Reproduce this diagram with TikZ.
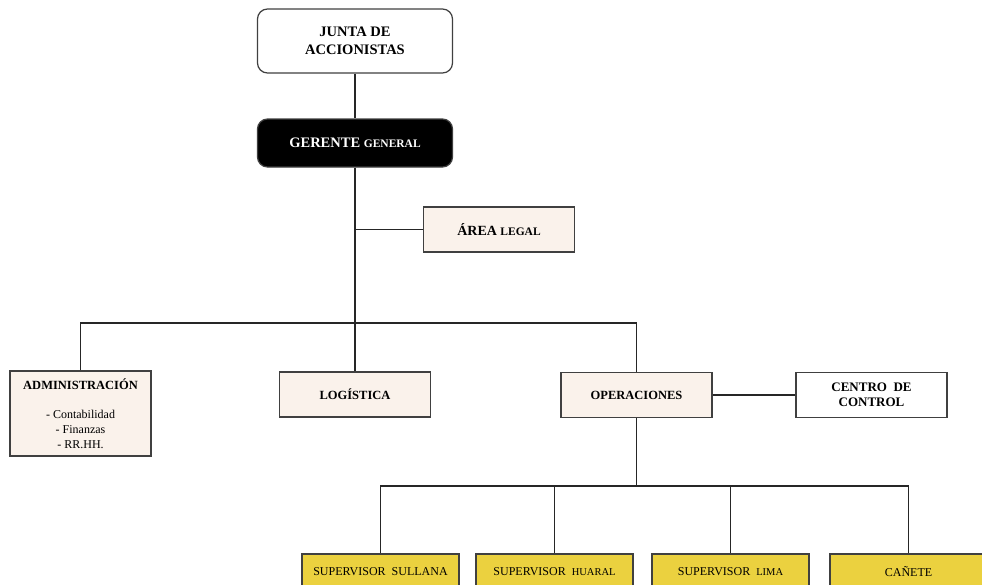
\documentclass[tikz,border=0pt]{standalone}
\usepackage{fontspec}
\setmainfont{Liberation Serif}
\definecolor{cream}{HTML}{FAF2EB}
\definecolor{gold}{HTML}{EBD13F}
\definecolor{rim}{HTML}{404040}
\newcommand{\fakesc}[2]{{\fontsize{#1}{#1}\selectfont #2}}

\begin{document}
\begin{tikzpicture}[x=1pt,y=-1pt,
  topbox/.style={draw=rim,line width=1.2pt,rounded corners=10pt,fill=white,minimum width=195pt,align=center,font=\fontsize{14.5}{18}\selectfont\bfseries},
  box/.style={draw=rim,line width=1.3pt,fill=cream,minimum width=151pt,minimum height=45pt,align=center,font=\fontsize{12.5}{15}\selectfont\bfseries},
  supbox/.style={draw=rim,line width=1.3pt,fill=gold,minimum width=157pt,minimum height=36pt,align=center,font=\fontsize{12}{15}\selectfont},
  link/.style={draw=black!85,line width=1.1pt}]
  \useasboundingbox (0,0) rectangle (982,584);
  \node[topbox,minimum height=64pt] (junta) at (355,41) {JUNTA DE\\ACCIONISTAS};
  \node[topbox,minimum height=48pt,fill=black,text=white] (gerente) at (355,143) {GERENTE \fakesc{11.5}{GENERAL}};
  \node[box,font=\fontsize{14}{16}\selectfont\bfseries] (legal) at (499,229.5) {ÁREA \fakesc{11.5}{LEGAL}};
  \node[box,minimum width=141pt,minimum height=85pt,font=\fontsize{12}{15}\selectfont] (admin) at (80.5,413.5) {\textbf{\fontsize{12.5}{15}\selectfont ADMINISTRACIÓN}\\[14pt]- Contabilidad\\- Finanzas\\- RR.HH.};
  \node[box] (logistica) at (355,394.5) {LOGÍSTICA};
  \node[box] (oper) at (636.5,395) {OPERACIONES};
  \node[box,fill=white,font=\fontsize{13}{15}\selectfont\bfseries] (centro) at (871.5,395) {CENTRO~ DE\\CONTROL};
  \node[supbox] (sup1) at (380.5,572) {SUPERVISOR~ SULLANA};
  \node[supbox] (sup2) at (554.5,572) {SUPERVISOR~ \fakesc{10.5}{HUARAL}};
  \node[supbox] (sup3) at (730.5,572) {SUPERVISOR~ \fakesc{10.5}{LIMA}};
  \node[supbox] (canete) at (908.5,572) {CAÑETE};
  \coordinate (bus) at (355,323);
  \coordinate (bus2) at (636.5,486);
  \draw[link] (junta) -- (gerente);
  \draw[link] (gerente) -- (logistica);
  \draw[link] (legal.west) -- (legal.west -| gerente.south);
  \draw[link] (admin.north) |- (bus) -| (oper.north);
  \draw[link] (oper) -- (centro);
  \draw[link] (oper.south) -- (bus2);
  \draw[link] (sup1.north) |- (bus2) -| (canete.north);
  \draw[link] (sup2.north) -- (sup2.north |- bus2);
  \draw[link] (sup3.north) -- (sup3.north |- bus2);
\end{tikzpicture}
\end{document}
